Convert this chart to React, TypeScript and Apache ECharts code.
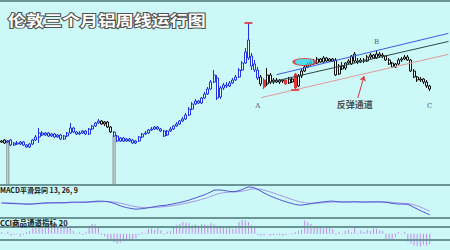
import { useEffect, useRef } from "react";
import * as echarts from "echarts";

// Weekly slots; the last few are left empty so the channel lines run on to the edge.
const slotCount = 144;
const weekSlots = Array.from({ length: slotCount }, (_, i) => String(i + 1));

const opens = [
  1485, 1455, 1485, 1500, 1425, 1455, 1440, 1470, 1425, 1395,
  1440, 1500, 1545, 1605, 1575, 1605, 1560, 1590, 1545, 1575,
  1515, 1560, 1605, 1680, 1620, 1590, 1605, 1635, 1590, 1665,
  1710, 1755, 1785, 1740, 1770, 1695, 1620, 1560, 1485, 1530,
  1485, 1515, 1500, 1455, 1485, 1545, 1590, 1605, 1650, 1665,
  1695, 1665, 1635, 1575, 1635, 1665, 1710, 1740, 1785, 1815,
  1875, 1965, 2040, 2085, 2055, 2130, 2190, 2265, 2370, 2430,
  2145, 2280, 2325, 2310, 2355, 2400, 2445, 2550, 2655, 3000,
  2760, 2640, 2550, 2445, 2400, 2340, 2475, 2370, 2400, 2370,
  2400, 2400, 2355, 2415, 2490, 2310, 2460, 2535, 2595, 2640,
  2670, 2655, 2715, 2670, 2730, 2685, 2715, 2700, 2490, 2610,
  2580, 2655, 2640, 2790, 2685, 2670, 2700, 2685, 2745, 2775,
  2730, 2790, 2760, 2760, 2700, 2655, 2595, 2640, 2700, 2715,
  2745, 2700, 2535, 2445, 2400, 2415, 2370, 2310,
];

const closes = [
  1470, 1500, 1470, 1425, 1455, 1440, 1470, 1425, 1395, 1440,
  1500, 1545, 1605, 1575, 1605, 1560, 1590, 1545, 1575, 1515,
  1560, 1605, 1680, 1620, 1590, 1605, 1635, 1590, 1665, 1710,
  1755, 1785, 1740, 1770, 1695, 1620, 1560, 1485, 1530, 1485,
  1515, 1485, 1455, 1485, 1545, 1590, 1605, 1650, 1665, 1695,
  1665, 1635, 1560, 1635, 1665, 1710, 1740, 1785, 1815, 1875,
  1965, 2040, 2085, 2055, 2130, 2190, 2265, 2370, 2475, 2130,
  2280, 2325, 2310, 2355, 2400, 2445, 2550, 2655, 2820, 2730,
  2610, 2550, 2430, 2340, 2295, 2475, 2370, 2400, 2370, 2400,
  2385, 2340, 2415, 2370, 2280, 2460, 2535, 2595, 2640, 2670,
  2655, 2715, 2670, 2730, 2685, 2715, 2685, 2475, 2610, 2565,
  2655, 2685, 2760, 2685, 2670, 2700, 2685, 2745, 2775, 2730,
  2790, 2760, 2775, 2700, 2640, 2595, 2640, 2700, 2715, 2745,
  2700, 2535, 2445, 2400, 2415, 2370, 2310, 2265,
];

const lows = [
  1455, 1440, 1455, 1410, 1410, 1425, 1425, 1410, 1380, 1380,
  1425, 1485, 1455, 1560, 1560, 1545, 1545, 1530, 1530, 1500,
  1500, 1545, 1590, 1605, 1575, 1575, 1590, 1575, 1575, 1650,
  1695, 1740, 1725, 1710, 1680, 1605, 1545, 1470, 1470, 1470,
  1470, 1470, 1440, 1440, 1470, 1530, 1575, 1590, 1635, 1650,
  1650, 1620, 1545, 1560, 1620, 1650, 1695, 1725, 1770, 1800,
  1860, 1950, 2025, 2040, 2040, 2115, 2175, 2250, 2355, 2100,
  2115, 2250, 2280, 2295, 2340, 2385, 2430, 2535, 2640, 2700,
  2550, 2520, 2400, 2310, 2265, 2310, 2340, 2340, 2355, 2340,
  2355, 2325, 2340, 2355, 2250, 2295, 2430, 2520, 2580, 2610,
  2625, 2640, 2655, 2655, 2670, 2670, 2670, 2460, 2475, 2550,
  2550, 2640, 2625, 2655, 2640, 2655, 2655, 2670, 2715, 2715,
  2715, 2730, 2730, 2685, 2625, 2580, 2580, 2625, 2670, 2700,
  2685, 2520, 2430, 2370, 2370, 2340, 2280, 2235,
];

const highs = [
  1500, 1515, 1500, 1515, 1470, 1485, 1485, 1485, 1440, 1455,
  1515, 1575, 1680, 1635, 1620, 1620, 1605, 1605, 1590, 1590,
  1575, 1620, 1755, 1695, 1635, 1635, 1650, 1650, 1680, 1725,
  1770, 1815, 1800, 1785, 1785, 1710, 1635, 1575, 1545, 1545,
  1530, 1530, 1515, 1500, 1560, 1605, 1635, 1665, 1695, 1710,
  1710, 1680, 1650, 1650, 1695, 1725, 1770, 1800, 1845, 1905,
  1995, 2070, 2115, 2100, 2145, 2220, 2295, 2400, 2550, 2475,
  2310, 2355, 2370, 2385, 2430, 2475, 2580, 2685, 2880, 3255,
  2805, 2700, 2595, 2475, 2430, 2580, 2505, 2430, 2430, 2415,
  2415, 2415, 2445, 2445, 2505, 2490, 2565, 2625, 2670, 2700,
  2715, 2745, 2730, 2760, 2745, 2730, 2730, 2730, 2640, 2670,
  2670, 2715, 2775, 2820, 2730, 2730, 2730, 2775, 2805, 2790,
  2850, 2820, 2805, 2775, 2730, 2670, 2655, 2730, 2745, 2775,
  2775, 2715, 2565, 2460, 2445, 2430, 2400, 2325,
];

// MACD (13, 26, 9)
const difLine = [
  0, -1, -3, -5, -6, -8, -9, -10, -12, -12,
  -10, -7, -3, -1, 1, 2, 3, 3, 3, 2,
  3, 4, 8, 9, 9, 8, 9, 9, 11, 14,
  17, 19, 18, 17, 13, 6, -4, -16, -28, -38,
  -46, -52, -58, -61, -60, -57, -53, -47, -42, -36,
  -31, -27, -25, -20, -14, -8, -1, 5, 12, 20,
  29, 40, 50, 62, 72, 83, 96, 112, 128, 130,
  130, 126, 121, 116, 114, 116, 124, 135, 150, 160,
  158, 150, 135, 118, 100, 85, 70, 57, 45, 33,
  22, 12, 3, -6, -15, -20, -20, -17, -12, -6,
  -1, 4, 8, 12, 15, 18, 19, 14, 12, 10,
  10, 10, 11, 13, 11, 10, 9, 10, 11, 11,
  12, 11, 10, 7, 2, -4, -8, -10, -11, -12,
  -14, -27, -44, -60, -75, -90, -104, -118,
];

const deaLine = [
  2, 1, 0, -1, -2, -3, -5, -6, -7, -8,
  -9, -8, -7, -6, -4, -3, -2, -1, 0, 1,
  1, 2, 3, 4, 5, 6, 6, 7, 8, 9,
  11, 12, 13, 14, 14, 12, 9, 4, -2, -9,
  -16, -24, -31, -37, -42, -45, -47, -47, -46, -44,
  -42, -39, -36, -33, -29, -25, -20, -15, -9, -3,
  4, 11, 19, 27, 36, 45, 55, 66, 78, 89,
  97, 103, 107, 109, 110, 111, 114, 118, 124, 132,
  138, 141, 140, 136, 129, 120, 110, 100, 89, 78,
  67, 56, 45, 35, 25, 16, 9, 3, -1, -3,
  -3, -2, 0, 2, 5, 7, 10, 11, 11, 11,
  11, 11, 11, 11, 11, 11, 11, 10, 10, 10,
  11, 11, 11, 10, 9, 6, 3, 0, -2, -4,
  -6, -10, -18, -28, -40, -54, -68, -82,
];

// CCI (20)
const cciBars = [
  20, -10, 30, -30, -20, 10, -40, -20, 30, 40,
  110, 120, 130, 110, 100, 120, 110, 100, 110, 90,
  110, 100, 120, 40, -10, 20, -20, 30, 120, 150,
  140, 110, -20, -40, -80, -110, -130, -150, -140, -120,
  -110, -100, -90, -70, -20, 20, 10, 70, 80, 60,
  80, 50, -20, 30, 40, 100, 130, 150, 180, 170,
  160, 130, 140, 120, 150, 140, 130, 160, 140, 100,
  120, 110, 80, 90, 70, 80, 180, 210, 200, 180,
  130, 90, -20, -30, -25, -10, -30, -20, -15, -25,
  -30, -20, -10, -15, 20, 40, 60, 200, 180, 150,
  100, 90, 110, 80, 100, 90, 70, -20, 30, -10,
  40, 60, 20, 90, -10, 50, 30, 60, 40, 80,
  70, 50, 40, -100, -90, -80, -60, 20, -10, 30,
  -120, -150, -180, -190, -200, -170, -180, -160,
];
const cciBands = [100, -100];

// Two weeks flagged with tall grey markers
const flaggedWeeks = [2, 36];
const flaggedTops = [1500, 1575];

// Rebound channel: lower, middle and upper rails
const channelLow = [[83, 2135], [143, 2785]];
const channelMid = [[85, 2355], [143, 2978]];
const channelHigh = [[88, 2480], [143, 3100]];

// Annotations
const turnLabels = [
  { text: "A", week: 82, price: 2010 },
  { text: "B", week: 120, price: 2970 },
  { text: "C", week: 137, price: 2010 },
];
const channelNote = { text: "反弹通道", week: 113, price: 2040 };
const noteArrow = { from: [114, 2130], to: [116, 2460] };
const breakoutWeek = 97;
const breakoutPrice = 2670;
const extremeWeeks = [79, 94];

// Candle tones by run of weeks
const blackRuns = [[0, 1], [32, 35], [83, 137]];
const redWeeks = [84, 91, 94];

const tones = {
  blue: { up: "#e8ffff", upLine: "#1f33e0", down: "#1f33e0" },
  black: { up: "#f2ffff", upLine: "#111111", down: "#111111" },
  red: { up: "#e23434", upLine: "#e23434", down: "#e23434" },
};

function toneOf(i: number) {
  if (redWeeks.includes(i)) return tones.red;
  if (blackRuns.some(([a, b]) => i >= a && i <= b)) return tones.black;
  return tones.blue;
}

const candleData = opens.map((o, i) => {
  const t = toneOf(i);
  return {
    value: [o, closes[i], lows[i], highs[i]],
    itemStyle: {
      color: t.up,
      borderColor: t.upLine,
      color0: t.down,
      borderColor0: t.down,
      borderWidth: 1,
    },
  };
});

const flagData = weekSlots.map((_, i) => {
  const k = flaggedWeeks.indexOf(i);
  return k >= 0 ? flaggedTops[k] : "-";
});

const extremeData = [
  [extremeWeeks[0], highs[extremeWeeks[0]]],
  [extremeWeeks[1], lows[extremeWeeks[1]]],
];

const frame = "#6b9595";
const cjk = '"Noto Sans CJK SC", "Noto Sans", sans-serif';

function buildOption() {
  return {
    animation: false,
    backgroundColor: "#ccf8f8",
    grid: [
      { left: 0, right: 0, top: 2, height: 183 },
      { left: 0, right: 0, top: 185, height: 33 },
      { left: 0, right: 0, top: 218, height: 32 },
    ],
    xAxis: [0, 1, 2].map((g) => ({
      type: "category",
      gridIndex: g,
      data: weekSlots,
      boundaryGap: true,
      show: false,
    })),
    yAxis: [
      { type: "value", gridIndex: 0, min: 825, max: 3570, show: false },
      { type: "value", gridIndex: 1, min: -150, max: 180, show: false },
      { type: "value", gridIndex: 2, min: -250, max: 240, show: false },
    ],
    graphic: [
      { type: "rect", shape: { x: 0, y: 0, width: 450, height: 2 }, style: { fill: frame }, z: 100 },
      { type: "rect", shape: { x: 0, y: 184, width: 450, height: 2 }, style: { fill: frame }, z: 100 },
      { type: "rect", shape: { x: 0, y: 217, width: 450, height: 2 }, style: { fill: frame }, z: 100 },
      {
        type: "text",
        x: 8,
        y: 12,
        scaleX: 1.2,
        z: 100,
        style: {
          text: "伦敦三个月铝周线运行图",
          font: `bold 15px ${cjk}`,
          fill: "#ffffff",
          stroke: "#505050",
          lineWidth: 2,
        },
      },
      {
        type: "text",
        x: 0,
        y: 186,
        z: 100,
        style: { text: "MACD平滑异同 13, 26, 9", font: `bold 7px ${cjk}`, fill: "#151515" },
      },
      {
        type: "text",
        x: 0,
        y: 219,
        z: 100,
        style: { text: "CCI商品通道指标 20", font: `bold 7.5px ${cjk}`, fill: "#151515" },
      },
    ],
    series: [
      {
        type: "bar",
        xAxisIndex: 0,
        yAxisIndex: 0,
        data: flagData,
        barWidth: 3,
        clip: true,
        silent: true,
        itemStyle: { color: "#d8eeee", borderColor: "#7f8c8c", borderWidth: 1 },
      },
      {
        type: "candlestick",
        xAxisIndex: 0,
        yAxisIndex: 0,
        data: candleData,
        barWidth: 2.5,
        silent: true,
      },
      {
        type: "line",
        xAxisIndex: 0,
        yAxisIndex: 0,
        data: channelLow,
        symbol: "none",
        silent: true,
        lineStyle: { color: "#e39a9a", width: 1 },
        z: 3,
      },
      {
        type: "line",
        xAxisIndex: 0,
        yAxisIndex: 0,
        data: channelMid,
        symbol: "none",
        silent: true,
        lineStyle: { color: "#2e4848", width: 1 },
        z: 3,
      },
      {
        type: "line",
        xAxisIndex: 0,
        yAxisIndex: 0,
        data: channelHigh,
        symbol: "none",
        silent: true,
        lineStyle: { color: "#3b5ce6", width: 1 },
        z: 3,
        markLine: {
          silent: true,
          symbol: ["none", "arrow"],
          symbolSize: 5,
          label: { show: false },
          lineStyle: { color: "#d03c3c", width: 1, type: "solid" },
          data: [[{ coord: noteArrow.from }, { coord: noteArrow.to }]],
        },
      },
      {
        type: "scatter",
        xAxisIndex: 0,
        yAxisIndex: 0,
        silent: true,
        symbol: "rect",
        symbolSize: [8, 2],
        itemStyle: { color: "#e03030" },
        data: extremeData,
        z: 6,
      },
      {
        type: "scatter",
        xAxisIndex: 0,
        yAxisIndex: 0,
        silent: true,
        symbol: "circle",
        symbolSize: [22, 7],
        itemStyle: { color: "#33d6e6", borderColor: "#e02a2a", borderWidth: 1.5 },
        data: [[breakoutWeek, breakoutPrice]],
        z: 6,
      },
      {
        type: "scatter",
        xAxisIndex: 0,
        yAxisIndex: 0,
        silent: true,
        symbolSize: 1,
        itemStyle: { color: "transparent" },
        z: 7,
        data: [
          ...turnLabels.map((m) => ({
            value: [m.week, m.price],
            label: {
              show: true,
              position: "inside",
              formatter: m.text,
              fontSize: 7,
              color: "#333333",
              fontFamily: '"DejaVu Serif", "Liberation Serif", serif',
            },
          })),
          {
            value: [channelNote.week, channelNote.price],
            label: {
              show: true,
              position: "inside",
              formatter: channelNote.text,
              fontSize: 9,
              fontWeight: "bold",
              color: "#222222",
              fontFamily: cjk,
            },
          },
        ],
      },
      {
        type: "line",
        xAxisIndex: 1,
        yAxisIndex: 1,
        data: deaLine,
        symbol: "none",
        silent: true,
        lineStyle: { color: "#a894ec", width: 1 },
      },
      {
        type: "line",
        xAxisIndex: 1,
        yAxisIndex: 1,
        data: difLine,
        symbol: "none",
        silent: true,
        lineStyle: { color: "#4a55cf", width: 1 },
      },
      {
        type: "bar",
        xAxisIndex: 2,
        yAxisIndex: 2,
        data: cciBars,
        barWidth: 1,
        silent: true,
        itemStyle: { color: "#c489e8" },
        markLine: {
          silent: true,
          symbol: "none",
          label: { show: false },
          lineStyle: { color: frame, width: 2, type: "solid" },
          data: cciBands.map((v) => ({ yAxis: v })),
        },
      },
    ],
  };
}

export default function App() {
  const ref = useRef<HTMLDivElement>(null);

  useEffect(() => {
    if (!ref.current) return;
    const chart = echarts.init(ref.current, undefined, { renderer: "svg" });
    chart.setOption(buildOption() as any);
    return () => chart.dispose();
  }, []);

  return (
    <div
      ref={ref}
      style={{ position: "absolute", left: 0, top: 0, width: 450, height: 250 }}
    />
  );
}
